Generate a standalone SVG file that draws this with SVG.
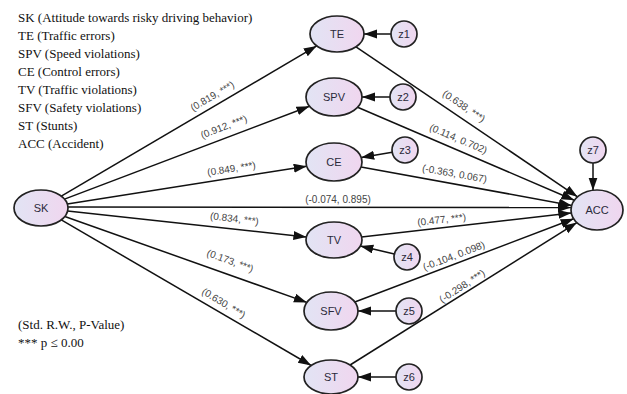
<svg xmlns="http://www.w3.org/2000/svg" width="627" height="394" viewBox="0 0 627 394">
<style>
.node{stroke:#222;stroke-width:1.7;fill:url(#g)}
.nl{font-family:"Liberation Sans",Arial,sans-serif;font-size:11px;fill:#2a2a3a;text-anchor:middle;dominant-baseline:central}
.el{font-family:"Liberation Sans",Arial,sans-serif;font-size:10px;fill:#444;text-anchor:middle}
.lg{font-family:"Liberation Serif","Times New Roman",serif;font-size:13px;fill:#111}
.e{stroke:#111;stroke-width:1.5;fill:none;marker-end:url(#ah)}
</style>
<defs>
<linearGradient id="g" x1="0" y1="0" x2="1" y2="0">
<stop offset="0" stop-color="#e2e4f4"/>
<stop offset="1" stop-color="#f0d6ef"/>
</linearGradient>
<marker id="ah" markerUnits="userSpaceOnUse" markerWidth="14" markerHeight="10" refX="13" refY="4.5" orient="auto">
<path d="M0,0 L13,4.5 L0,9 z" fill="#111"/>
</marker>
</defs>
<rect width="627" height="394" fill="#fff"/>
<g id="legend">
<text class="lg" x="18" y="22">SK (Attitude towards risky driving behavior)</text>
<text class="lg" x="18" y="40">TE (Traffic errors)</text>
<text class="lg" x="18" y="58">SPV (Speed violations)</text>
<text class="lg" x="18" y="76">CE (Control errors)</text>
<text class="lg" x="18" y="94">TV (Traffic violations)</text>
<text class="lg" x="18" y="112">SFV (Safety violations)</text>
<text class="lg" x="18" y="130">ST (Stunts)</text>
<text class="lg" x="18" y="148">ACC (Accident)</text>
<text class="lg" x="18" y="329">(Std. R.W., P-Value)</text>
<text class="lg" x="18" y="347">*** p ≤ 0.00</text>
</g>
<g id="connectors">
<line class="e" x1="61.3" y1="196.1" x2="316.7" y2="45.9"/>
<line class="e" x1="64.5" y1="199.1" x2="309.5" y2="106.3"/>
<line class="e" x1="67.3" y1="203.9" x2="306.7" y2="166.3"/>
<line class="e" x1="68" y1="207" x2="571" y2="207.5"/>
<line class="e" x1="67.6" y1="210.9" x2="306.4" y2="237"/>
<line class="e" x1="64.8" y1="216.5" x2="306.9" y2="302.4"/>
<line class="e" x1="61.3" y1="219.9" x2="311.2" y2="365.5"/>
<line class="e" x1="356" y1="46.8" x2="577.5" y2="196.8"/>
<line class="e" x1="357.6" y1="107.2" x2="574.3" y2="200.2"/>
<line class="e" x1="361" y1="166.9" x2="571.7" y2="205.4"/>
<line class="e" x1="361.6" y1="236.9" x2="571.3" y2="212.9"/>
<line class="e" x1="354.8" y1="302" x2="573.7" y2="218.8"/>
<line class="e" x1="350.1" y1="365" x2="576.9" y2="222.6"/>
<line class="e" x1="391" y1="34" x2="364" y2="34"/>
<line class="e" x1="390" y1="97" x2="362" y2="97"/>
<line class="e" x1="392.2" y1="152.2" x2="361.2" y2="157.4"/>
<line class="e" x1="394.3" y1="254" x2="360.3" y2="246.1"/>
<line class="e" x1="396" y1="311" x2="358" y2="311"/>
<line class="e" x1="396" y1="377" x2="358" y2="377"/>
<line class="e" x1="593" y1="163" x2="593" y2="190.5"/>
<text class="el" transform="translate(214,99) rotate(-30.5)">(0.819, ***)</text>
<text class="el" transform="translate(225,130) rotate(-21)">(0.912, ***)</text>
<text class="el" transform="translate(232,172) rotate(-9)">(0.849, ***)</text>
<text class="el" x="338" y="203">(-0.074, 0.895)</text>
<text class="el" transform="translate(234,222) rotate(6.5)">(0.834, ***)</text>
<text class="el" transform="translate(229,264) rotate(20)">(0.173, ***)</text>
<text class="el" transform="translate(222,306) rotate(31)">(0.630, ***)</text>
<text class="el" transform="translate(462,109) rotate(34)">(0.638, ***)</text>
<text class="el" transform="translate(457,142) rotate(23)">(0.114, 0.702)</text>
<text class="el" transform="translate(454,177) rotate(10)">(-0.363, 0.067)</text>
<text class="el" transform="translate(442,223) rotate(-6.5)">(0.477, ***)</text>
<text class="el" transform="translate(455,259) rotate(-21)">(-0.104, 0.098)</text>
<text class="el" transform="translate(464,289) rotate(-33)">(-0.298, ***)</text>
</g>
<g id="SK"><ellipse class="node" cx="41" cy="208" rx="27" ry="18"/><text class="nl" x="41" y="208">SK</text></g>
<g id="TE"><ellipse class="node" cx="337" cy="34" rx="27" ry="18"/><text class="nl" x="337" y="34">TE</text></g>
<g id="SPV"><ellipse class="node" cx="334" cy="97" rx="28" ry="19"/><text class="nl" x="334" y="97">SPV</text></g>
<g id="CE"><ellipse class="node" cx="334" cy="162" rx="28" ry="19"/><text class="nl" x="334" y="162">CE</text></g>
<g id="TV"><ellipse class="node" cx="334" cy="240" rx="28" ry="18"/><text class="nl" x="334" y="240">TV</text></g>
<g id="SFV"><ellipse class="node" cx="331" cy="311" rx="27" ry="19"/><text class="nl" x="331" y="311">SFV</text></g>
<g id="ST"><ellipse class="node" cx="331" cy="377" rx="27" ry="17"/><text class="nl" x="331" y="377">ST</text></g>
<g id="ACC"><ellipse class="node" cx="597" cy="210" rx="26" ry="20"/><text class="nl" x="597" y="210">ACC</text></g>
<g id="z1"><circle class="node" cx="404" cy="34" r="13"/><text class="nl" x="404" y="34">z1</text></g>
<g id="z2"><circle class="node" cx="403" cy="97" r="13"/><text class="nl" x="403" y="97">z2</text></g>
<g id="z3"><circle class="node" cx="405" cy="150" r="13"/><text class="nl" x="405" y="150">z3</text></g>
<g id="z4"><circle class="node" cx="407" cy="257" r="13"/><text class="nl" x="407" y="257">z4</text></g>
<g id="z5"><circle class="node" cx="409" cy="311" r="13"/><text class="nl" x="409" y="311">z5</text></g>
<g id="z6"><circle class="node" cx="409" cy="377" r="13"/><text class="nl" x="409" y="377">z6</text></g>
<g id="z7"><circle class="node" cx="593" cy="150" r="13"/><text class="nl" x="593" y="150">z7</text></g>
</svg>
